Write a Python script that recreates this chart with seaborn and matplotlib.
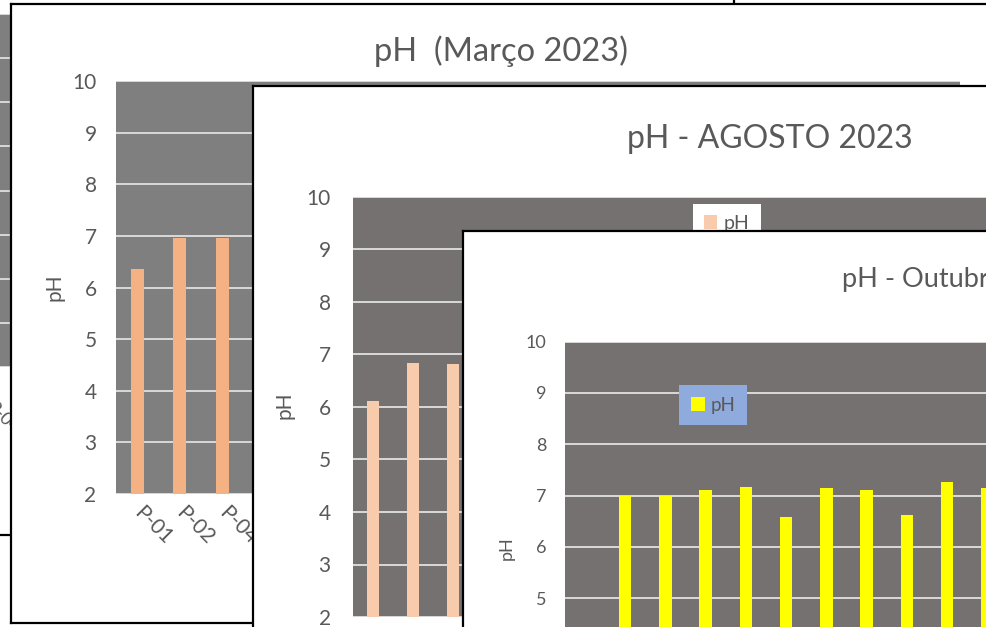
import matplotlib
matplotlib.use("Agg")
import matplotlib.pyplot as plt
import seaborn as sns

# ---- data -------------------------------------------------------------
y_ticks = [2, 3, 4, 5, 6, 7, 8, 9, 10]

back_labels = ["P-01", "P-02", "P-04"]

marco_labels = ["P-01", "P-02", "P-04"]
marco_ph = [6.35, 6.95, 6.95]

agosto_labels = ["P-01", "P-02", "P-04"]
agosto_ph = [6.11, 6.84, 6.81]

outubro_labels = ["P-01", "P-02", "P-04", "P-05", "P-06",
                  "P-07", "P-08", "P-09", "P-10", "P-11"]
outubro_ph = [7.00, 7.00, 7.11, 7.17, 6.58, 7.14, 7.10, 6.63, 7.27, 7.14]

# ---- page setup -------------------------------------------------------
sns.set_theme(style="white")
plt.rcParams["font.family"] = ["Lato", "DejaVu Sans"]

W, H = 986, 627
fig = plt.figure(figsize=(W / 100, H / 100), dpi=100)
fig.patch.set_facecolor("white")

TXT = "#595959"
GRID = "#d9d9d9"


def rect(x0, y0, x1, y1):
    """Pixel box (top-left origin) -> figure fraction rect."""
    return [x0 / W, 1 - y1 / H, (x1 - x0) / W, (y1 - y0) / H]


def frame(x0, y0, x1, y1, z):
    ax = fig.add_axes(rect(x0, y0, x1, y1))
    ax.set_facecolor("white")
    ax.set_xticks([])
    ax.set_yticks([])
    for s in ax.spines.values():
        s.set_color("black")
        s.set_linewidth(1.6)
    ax.set_zorder(z)
    return ax


def text(ax, x, y, s, size, **kw):
    ax.text(x / W, 1 - y / H, s, transform=fig.transFigure, color=TXT,
            fontsize=size, **kw)


def plot_area(x0, y0, x1, y1, z, bg, start, px_per_cat, tick_size, pad):
    ax = fig.add_axes(rect(x0, y0, x1, y1))
    ax.set_zorder(z)
    ax.set_facecolor(bg)
    ax.set_ylim(2, 10)
    ax.set_yticks(y_ticks)
    ax.set_axisbelow(True)
    ax.grid(axis="y", color=GRID, linewidth=1.4)
    ax.grid(axis="x", visible=False)
    for s in ax.spines.values():
        s.set_visible(False)
    ax.tick_params(axis="y", length=0, pad=pad, labelsize=tick_size,
                   labelcolor=TXT)
    ax.tick_params(axis="x", length=0)
    ax.set_ylabel("")
    ax.set_xlabel("")
    ax._px = (start, start + (x1 - x0) / px_per_cat)
    return ax


BAR = dict(saturation=1, edgecolor="none", linewidth=0)

# ---- panel at the very back ------------------------------------------
f0 = frame(-10, -10, 734, 535, 0)
a0 = plot_area(-180, 14, 40, 367, 1, "#7f7f7f", -2.62, 36.5, 12, 16)
a0.tick_params(axis="y", labelleft=False)
a0.set_xticks(range(len(back_labels)))
a0.set_xlim(*a0._px)
a0.set_xticklabels(back_labels, rotation=-45, ha="left", va="center",
                   rotation_mode="anchor", color=TXT, fontsize=13)
a0.tick_params(axis="x", pad=27)

# ---- pH Março 2023 ----------------------------------------------------
f1 = frame(10.5, 4, 1100, 623, 2)
text(f1, 501, 51, "pH  (Março 2023)", 23.5, ha="center", va="center")
text(f1, 55, 287, "pH", 15, ha="center", va="center", rotation=90)
a1 = plot_area(116, 81, 960, 494, 3, "#7f7f7f", -0.5, 42.5, 15, 14)
sns.barplot(x=marco_labels, y=marco_ph, color="#f4b183", width=0.31,
            ax=a1, **BAR)
a1.set_xlim(*a1._px)
a1.set_ylim(2, 10)
a1.set_ylabel("")
a1.set_xticks(range(len(marco_labels)))
a1.set_xticklabels(marco_labels, rotation=-45, ha="left", va="center",
                   rotation_mode="anchor", color=TXT, fontsize=15)
a1.tick_params(axis="x", pad=11)

# ---- pH Agosto 2023 ---------------------------------------------------
f2 = frame(253, 86, 1100, 700, 4)
text(f2, 770, 139, "pH - AGOSTO 2023", 23, ha="center", va="center")
text(f2, 284, 405, "pH", 15, ha="center", va="center", rotation=90)
a2 = plot_area(353, 197, 1400, 617, 5, "#767171", -0.5, 40.0, 15, 16)
sns.barplot(x=agosto_labels, y=agosto_ph, color="#f8cbad", width=0.32,
            ax=a2, label="pH", **BAR)
a2.set_xlim(*a2._px)
a2.set_ylim(2, 10)
a2.set_ylabel("")
a2.set_xticklabels([])
a2.legend(loc="upper left", bbox_to_anchor=(693 / W, 1 - 204 / H),
          bbox_transform=fig.transFigure, frameon=True, facecolor="white",
          edgecolor="none", framealpha=1, fancybox=False, fontsize=14,
          labelcolor=TXT, handlelength=0.7, handleheight=0.7,
          handletextpad=0.35, borderpad=0.55, borderaxespad=0)

# ---- pH Outubro 2023 --------------------------------------------------
f3 = frame(462.5, 231, 1100, 700, 6)
text(f3, 842, 280, "pH - Outubro 2023", 19.5, ha="left", va="center")
text(f3, 507, 548, "pH", 13, ha="center", va="center", rotation=90)
a3 = plot_area(564.7, 341.7, 1400, 752, 7, "#767171", -1.5, 40.26, 13, 13)
sns.barplot(x=outubro_labels, y=outubro_ph, color="#ffff00", width=0.31,
            ax=a3, label="pH", **BAR)
a3.set_xlim(*a3._px)
a3.set_ylim(2, 10)
a3.set_ylabel("")
a3.set_xticklabels([])
a3.legend(loc="upper left", bbox_to_anchor=(679 / W, 1 - 385 / H),
          bbox_transform=fig.transFigure, frameon=True, facecolor="#8faadc",
          edgecolor="none", framealpha=1, fancybox=False, fontsize=13.5,
          labelcolor=TXT, handlelength=0.75, handleheight=0.75,
          handletextpad=0.3, borderpad=0.62, borderaxespad=0)

fig.savefig("out.png", dpi=100, facecolor="white")
